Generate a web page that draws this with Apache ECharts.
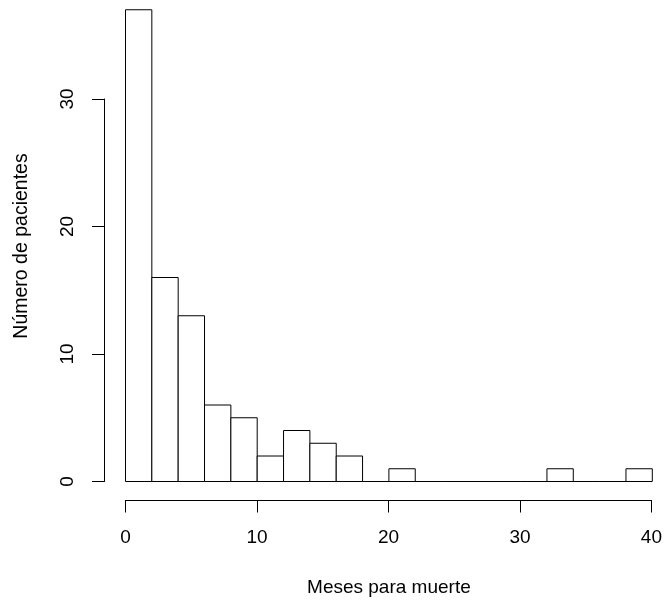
<!DOCTYPE html>
<html>
<head>
<meta charset="utf-8">
<script src="https://cdn.jsdelivr.net/npm/echarts@6/dist/echarts.min.js"></script>
<style>
  html, body { margin: 0; padding: 0; background: #fff; }
  #chart { width: 665px; height: 604px; }
</style>
</head>
<body>
<div id="chart"></div>
<script>
// Histogram of months until death, bins of width 2
const binWidth = 2;
const binStarts = [0, 2, 4, 6, 8, 10, 12, 14, 16, 18, 20, 22, 24, 26, 28, 30, 32, 34, 36, 38];
const counts    = [37, 16, 13, 6, 5, 2, 4, 3, 2, 0, 1, 0, 0, 0, 0, 0, 1, 0, 0, 1];
const xTicks = [0, 10, 20, 30, 40];
const yTicks = [0, 10, 20, 30];
const xTitle = 'Meses para muerte';
const yTitle = 'Número de pacientes';

const FONT = 'Liberation Sans, Arial, Helvetica, sans-serif';
const chart = echarts.init(document.getElementById('chart'), null, { renderer: 'canvas' });

const rows = binStarts.map((s, i) => [s, counts[i]]);

chart.setOption({
  animation: false,
  backgroundColor: '#ffffff',
  grid: [
    { left: 125.5, right: 12.7, top: 9.75, bottom: 122.5 },   // bars
    { left: 125.5, right: 12.7, top: 9.75, bottom: 104 },     // detached x axis
    { left: 104.5, right: 12.7, top: 99, bottom: 122.5 }      // detached y axis
  ],
  xAxis: [
    { type: 'value', gridIndex: 0, min: 0, max: 40, show: false },
    {
      type: 'value', gridIndex: 1, min: xTicks[0], max: xTicks[xTicks.length - 1], interval: 10,
      position: 'bottom',
      axisLine: { show: true, onZero: false, lineStyle: { color: '#000', width: 1 } },
      axisTick: { show: true, length: 12.5, lineStyle: { color: '#000', width: 1 } },
      axisLabel: { color: '#000', fontSize: 19, fontFamily: FONT, margin: 28 },
      splitLine: { show: false }
    },
    { type: 'value', gridIndex: 2, min: 0, max: 40, show: false }
  ],
  yAxis: [
    { type: 'value', gridIndex: 0, min: 0, max: 37, show: false },
    { type: 'value', gridIndex: 1, min: 0, max: 37, show: false },
    {
      type: 'value', gridIndex: 2, min: yTicks[0], max: yTicks[yTicks.length - 1], interval: 10,
      position: 'left',
      axisLine: { show: true, onZero: false, lineStyle: { color: '#000', width: 1 } },
      axisTick: { show: true, length: 12.5, lineStyle: { color: '#000', width: 1 } },
      axisLabel: { color: '#000', fontSize: 19, fontFamily: FONT, margin: 27, rotate: 90 },
      splitLine: { show: false }
    }
  ],
  series: [{
    type: 'custom',
    xAxisIndex: 0,
    yAxisIndex: 0,
    clip: false,
    data: rows,
    encode: { x: 0, y: 1 },
    renderItem: function (params, api) {
      const x0 = api.value(0);
      const c = api.value(1);
      const p0 = api.coord([x0, 0]);
      const p1 = api.coord([x0 + binWidth, c]);
      return {
        type: 'rect',
        shape: { x: p0[0], y: p1[1], width: p1[0] - p0[0], height: p0[1] - p1[1] },
        style: { fill: '#ffffff', stroke: '#000000', lineWidth: 1 }
      };
    }
  }],
  graphic: [
    {
      type: 'text', x: 388.9, y: 588,
      style: { text: xTitle, fill: '#000', font: '19px ' + FONT, textAlign: 'center', textVerticalAlign: 'middle' }
    },
    {
      type: 'text', x: 22, y: 246, rotation: Math.PI / 2,
      style: { text: yTitle, fill: '#000', font: '19.5px ' + FONT, textAlign: 'center', textVerticalAlign: 'middle' }
    }
  ]
});
</script>
</body>
</html>
